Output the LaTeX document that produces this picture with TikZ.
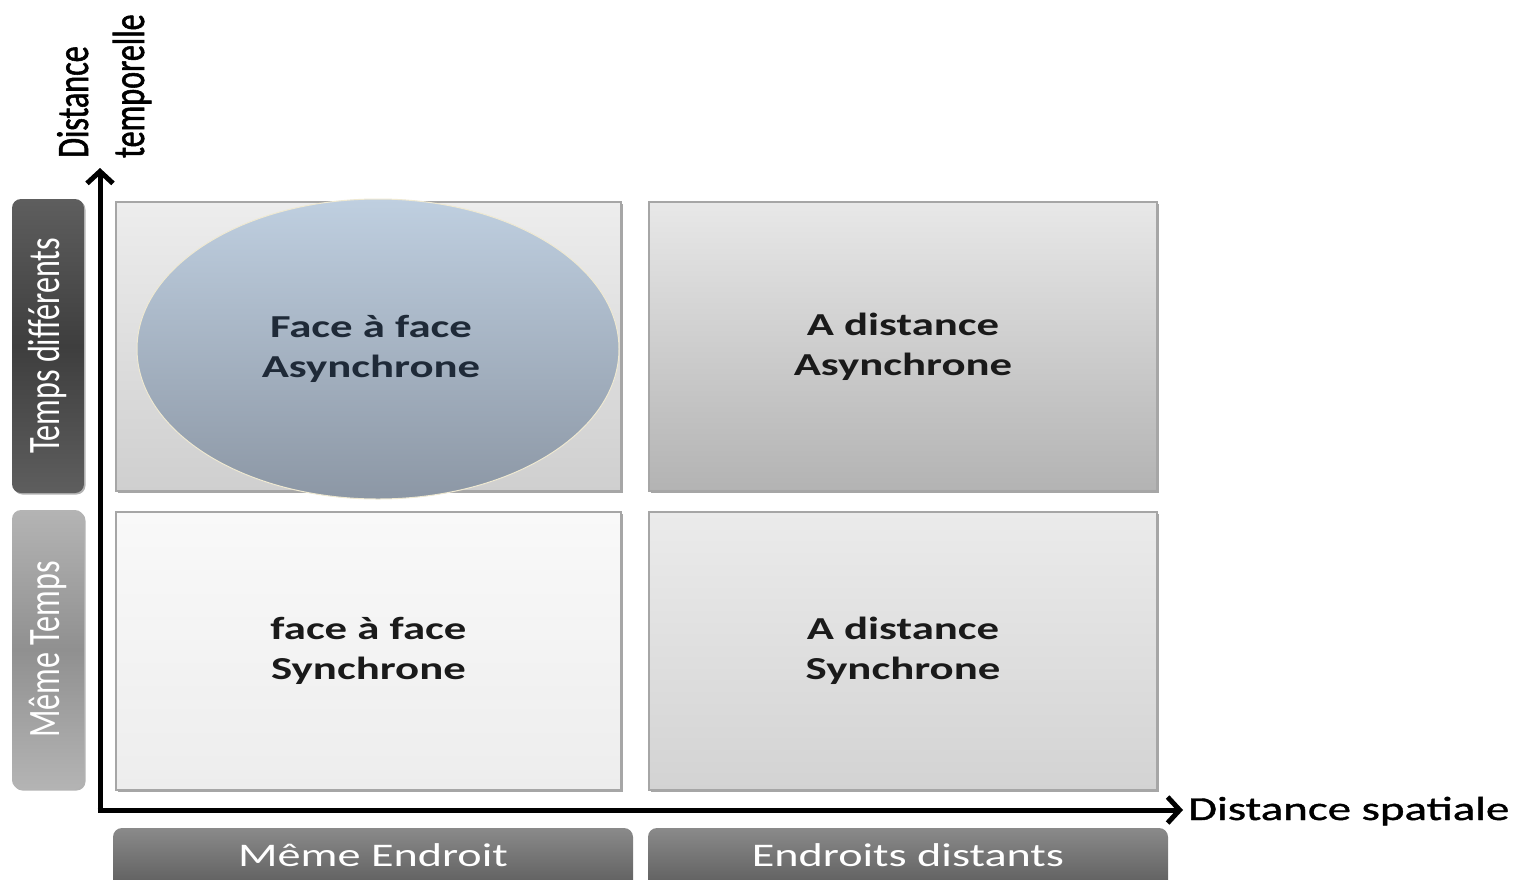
\documentclass[tikz,border=0pt]{standalone}
\usepackage{fontspec}
\setmainfont{Carlito}
\newfontfamily\widefont{Carlito}[FakeStretch=1.4]
\newfontfamily\wideheavy{Carlito}[FakeStretch=1.4,FakeBold=1.2]
\newfontfamily\tallfont{Carlito}[FakeStretch=0.714]
\newfontfamily\tallheavy{Carlito}[FakeStretch=0.714,FakeBold=1.2]
\usetikzlibrary{arrows.meta,shapes.geometric,shadows}

\definecolor{frameline}{HTML}{A6A6A6}
\definecolor{tlTop}{HTML}{EDEDED}\definecolor{tlBot}{HTML}{CFCFCF}
\definecolor{trTop}{HTML}{E8E8E8}\definecolor{trBot}{HTML}{B3B3B3}
\definecolor{blTop}{HTML}{F9F9F9}\definecolor{blBot}{HTML}{EDEDED}
\definecolor{brTop}{HTML}{EBEBEB}\definecolor{brBot}{HTML}{D3D3D3}
\definecolor{ellTop}{HTML}{BFCFE0}\definecolor{ellBot}{HTML}{8C97A5}
\definecolor{ellLine}{HTML}{EFE9D2}
\definecolor{ellText}{HTML}{1F2A38}
\definecolor{cellText}{HTML}{1A1A1A}
\definecolor{darkTabA}{HTML}{5E5E5E}\definecolor{darkTabB}{HTML}{3E3E3E}
\definecolor{lightTabA}{HTML}{B4B4B4}\definecolor{lightTabB}{HTML}{909090}
\definecolor{botTabTop}{HTML}{8A8A8A}\definecolor{botTabBot}{HTML}{5C5C5C}

\tikzset{
  cell/.style={draw=frameline, line width=1.4pt, inner sep=0pt,
    drop shadow={shadow xshift=2pt, shadow yshift=-2pt, opacity=0.35, fill=black},
    align=center, text=cellText,
    font=\widefont\bfseries\fontsize{32}{40}\selectfont},
  vtab/.style={rounded corners=9pt, inner sep=0pt, minimum height=72pt,
    text=white, rotate=90, font=\tallfont\fontsize{45}{50}\selectfont,
    drop shadow={shadow xshift=1.5pt, shadow yshift=-1.5pt, opacity=0.3, fill=black}},
  htab/.style={rounded corners=9pt, inner sep=0pt, minimum width=520pt,
    text=white, top color=botTabTop, bottom color=botTabBot},
  axislabel/.style={inner sep=0pt, text=black},
  axisline/.style={line width=5pt, -{Straight Barb[length=12pt,width=26pt]}},
}

\begin{document}
\begin{tikzpicture}[x=1pt,y=-1pt]
\useasboundingbox (0,0) rectangle (1529,879);

% quadrant cells
\node[cell, minimum width=505pt, minimum height=289pt,
      top color=tlTop, bottom color=tlBot] (tl) at (368.5,346.5) {};
\node[cell, minimum width=508pt, minimum height=289pt,
      top color=trTop, bottom color=trBot] (tr) at (903,346.5)
      {A distance\\Asynchrone};
\node[cell, minimum width=505pt, minimum height=278pt,
      top color=blTop, bottom color=blBot] (bl) at (368.5,651)
      {face à face\\Synchrone};
\node[cell, minimum width=508pt, minimum height=278pt,
      top color=brTop, bottom color=brBot] (br) at (903,651)
      {A distance\\Synchrone};

% highlighted quadrant
\node[ellipse, draw=ellLine, line width=1pt, inner sep=0pt,
      minimum width=482pt, minimum height=300pt,
      top color=ellTop, bottom color=ellBot,
      align=center, text=ellText,
      font=\widefont\bfseries\fontsize{32}{40}\selectfont]
      (fa) at (378,349) {\hspace*{-14pt}Face à face\\\hspace*{-14pt}Asynchrone};

% row tabs
\node[vtab, minimum width=294pt, top color=darkTabA, bottom color=darkTabA,
      middle color=darkTabB] (td) at (48,346) {Temps différents};
\node[vtab, minimum width=279pt, top color=lightTabA, bottom color=lightTabA,
      middle color=lightTabB] (mt) at (48,649.5) {Même Temps};

% column tabs
\node[htab, minimum height=62pt] (me) at (373,859) {};
\node[axislabel, text=white, font=\widefont\fontsize{33}{36}\selectfont,
      anchor=base] (metext) at (373,866) {Même Endroit};
\node[htab, minimum height=62pt] (ed) at (908,859) {};
\node[axislabel, text=white, font=\widefont\fontsize{33}{36}\selectfont,
      anchor=base] (edtext) at (908,866) {Endroits distants};

% axes
\coordinate (o) at (100,810);
\coordinate (ytop) at (100,168);
\node[axislabel, anchor=base west, font=\wideheavy\fontsize{33.5}{36}\selectfont]
      (ds) at (1188,820) {Distance spatiale};
\node[axislabel, anchor=base west, rotate=90, font=\tallheavy\fontsize{45}{50}\selectfont]
      (dt1) at (88,158) {Distance};
\node[axislabel, anchor=base west, rotate=90, font=\tallheavy\fontsize{45}{50}\selectfont]
      (dt2) at (144,158) {temporelle};
\draw[axisline] ([yshift=-2.5pt]o) -- (ytop);
\draw[axisline] ([xshift=-2.5pt]o) -- ([xshift=-5pt]ds.west |- o);
\end{tikzpicture}
\end{document}
